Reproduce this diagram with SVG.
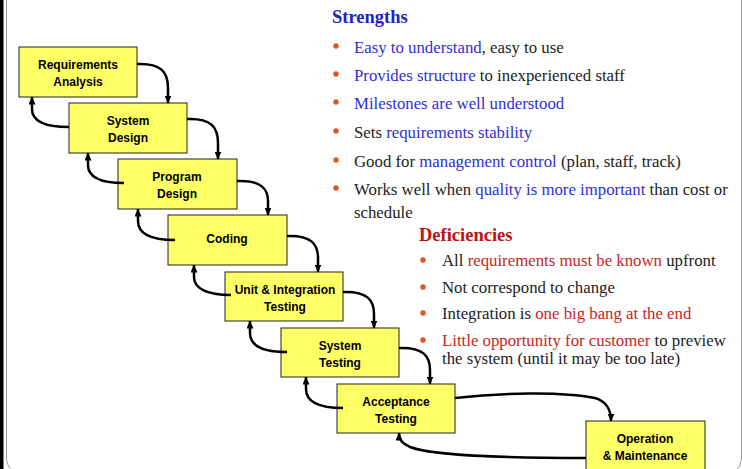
<svg xmlns="http://www.w3.org/2000/svg" width="742" height="469" viewBox="0 0 742 469">
  <defs>
    <marker id="arrow" viewBox="0 0 8 7" markerWidth="8" markerHeight="7" refX="7.5" refY="3.5" orient="auto" markerUnits="userSpaceOnUse">
      <path d="M0,0 L8,3.5 L0,7 z" fill="#000"/>
    </marker>
    <style>
      .box { fill: #FFFF66; stroke: #222; stroke-width: 1; }
      .lbl { font-family: "Comic Sans MS", "Liberation Sans", sans-serif; font-weight: bold; font-size: 12px; fill: #000; text-anchor: middle; }
      .conn { fill: none; stroke: #000; stroke-width: 2.5; marker-end: url(#arrow); }
      .txt { font-family: "Liberation Serif", "Times New Roman", serif; font-size: 16.8px; fill: #222; }
      .head { font-family: "Liberation Serif", "Times New Roman", serif; font-size: 18.5px; font-weight: bold; }
      .blue { fill: #2F2FD8; }
      .red { fill: #CC2424; }
      .dot { fill: #E0561E; }
    </style>
  </defs>

  <!-- page frame -->
  <rect x="0" y="0" width="3.5" height="469" fill="#000"/>
  <rect x="6.5" y="-30" width="735" height="505" rx="17" fill="none" stroke="#999" stroke-width="1"/>

  <!-- phases -->
  <g id="requirements-analysis">
    <rect class="box" x="19" y="47" width="118" height="50"/>
    <text class="lbl" x="78" y="69">Requirements</text>
    <text class="lbl" x="78" y="86">Analysis</text>
  </g>
  <g id="system-design">
    <rect class="box" x="69" y="103" width="118" height="50"/>
    <text class="lbl" x="128" y="125">System</text>
    <text class="lbl" x="128" y="142">Design</text>
  </g>
  <g id="program-design">
    <rect class="box" x="118" y="159" width="119" height="50"/>
    <text class="lbl" x="177" y="181">Program</text>
    <text class="lbl" x="177" y="198">Design</text>
  </g>
  <g id="coding">
    <rect class="box" x="168" y="215" width="119" height="50"/>
    <text class="lbl" x="227" y="243">Coding</text>
  </g>
  <g id="unit-integration-testing">
    <rect class="box" x="225" y="272" width="118" height="49"/>
    <text class="lbl" x="285" y="294">Unit &amp; Integration</text>
    <text class="lbl" x="285" y="311">Testing</text>
  </g>
  <g id="system-testing">
    <rect class="box" x="281" y="328" width="118" height="49"/>
    <text class="lbl" x="340" y="350">System</text>
    <text class="lbl" x="340" y="367">Testing</text>
  </g>
  <g id="acceptance-testing">
    <rect class="box" x="337" y="384" width="118" height="49"/>
    <text class="lbl" x="396" y="406">Acceptance</text>
    <text class="lbl" x="396" y="423">Testing</text>
  </g>
  <g id="operation-maintenance">
    <rect class="box" x="586" y="421" width="119" height="60"/>
    <text class="lbl" x="645" y="443">Operation</text>
    <text class="lbl" x="645" y="460">&amp; Maintenance</text>
  </g>

  <!-- flow between phases -->
  <g id="connectors">
    <!-- forward -->
    <path class="conn" d="M137,64 C161,63 168,72 168,88 L168,103"/>
    <path class="conn" d="M187,119 C211,118 218,127 218,143 L218,159"/>
    <path class="conn" d="M237,181 C261,180 268,189 268,201 L268,215"/>
    <path class="conn" d="M287,236 C311,235 318,244 318,258 L318,272"/>
    <path class="conn" d="M343,292 C367,291 374,300 374,314 L374,328"/>
    <path class="conn" d="M399,348 C423,347 430,356 430,370 L430,384"/>
    <path class="conn" d="M455,398 C500,393 560,391 595,398 C606,401 611,410 611,421"/>
    <!-- feedback -->
    <path class="conn" d="M69,127 C45,127 32,122 32,109 L32,97"/>
    <path class="conn" d="M124,183 C100,183 88,177 88,165 L88,153"/>
    <path class="conn" d="M175,240 C150,240 138,233 138,221 L138,209"/>
    <path class="conn" d="M231,295 C206,295 194,288 194,277 L194,265"/>
    <path class="conn" d="M287,352 C262,352 250,345 250,333 L250,321"/>
    <path class="conn" d="M343,408 C318,408 306,401 306,389 L306,377"/>
    <path class="conn" d="M586,458 C500,458 430,455 410,447 C402,443 399,440 399,433"/>
  </g>

  <!-- strengths -->
  <g id="strengths">
    <text class="head" x="332" y="23" style="fill:#2222C4">Strengths</text>
    <circle class="dot" cx="336" cy="46" r="2.7"/>
    <text class="txt" x="354" y="53"><tspan class="blue">Easy to understand</tspan>, easy to use</text>
    <circle class="dot" cx="336" cy="74" r="2.7"/>
    <text class="txt" x="354" y="81"><tspan class="blue">Provides structure</tspan> to inexperienced staff</text>
    <circle class="dot" cx="336" cy="102" r="2.7"/>
    <text class="txt" x="354" y="109"><tspan class="blue">Milestones are well understood</tspan></text>
    <circle class="dot" cx="336" cy="131" r="2.7"/>
    <text class="txt" x="354" y="138">Sets <tspan class="blue">requirements stability</tspan></text>
    <circle class="dot" cx="336" cy="160" r="2.7"/>
    <text class="txt" x="354" y="167">Good for <tspan class="blue">management control</tspan> (plan, staff, track)</text>
    <circle class="dot" cx="336" cy="188" r="2.7"/>
    <text class="txt" x="354" y="195">Works well when <tspan class="blue">quality is more important</tspan> than cost or</text>
    <text class="txt" x="354" y="218">schedule</text>
  </g>

  <!-- deficiencies -->
  <g id="deficiencies">
    <text class="head" x="419" y="241" style="fill:#B81414">Deficiencies</text>
    <circle class="dot" cx="423" cy="260" r="2.7"/>
    <text class="txt" x="442" y="266">All <tspan class="red">requirements must be known</tspan> upfront</text>
    <circle class="dot" cx="423" cy="287" r="2.7"/>
    <text class="txt" x="442" y="293">Not correspond to change</text>
    <circle class="dot" cx="423" cy="313" r="2.7"/>
    <text class="txt" x="442" y="319">Integration is <tspan class="red">one big bang at the end</tspan></text>
    <circle class="dot" cx="423" cy="340" r="2.7"/>
    <text class="txt" x="442" y="346"><tspan class="red">Little opportunity for customer</tspan> to preview</text>
    <text class="txt" x="442" y="364">the system (until it may be too late)</text>
  </g>
</svg>
